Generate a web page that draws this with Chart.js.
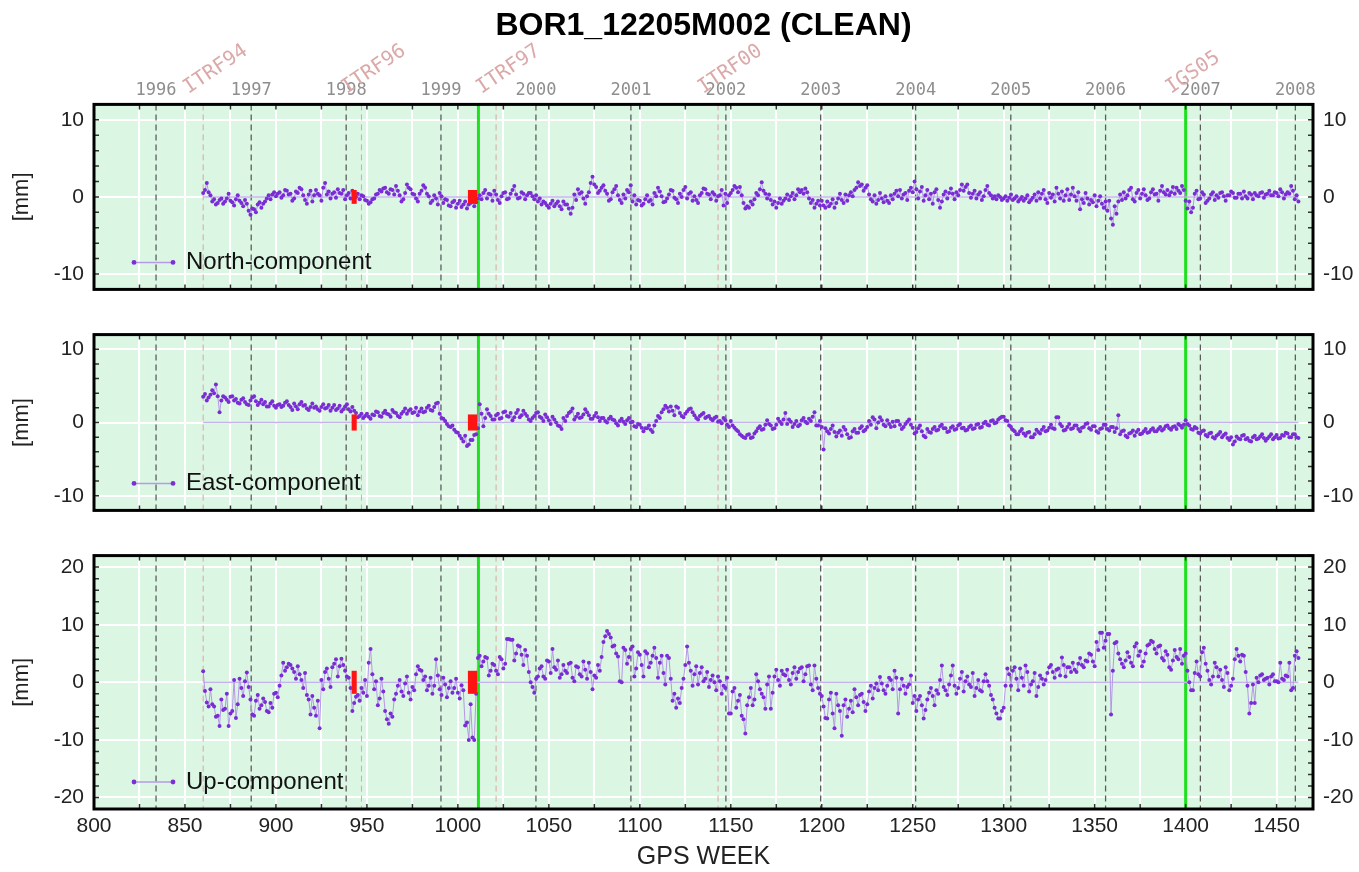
<!DOCTYPE html>
<html>
<head>
<meta charset="utf-8">
<script src="https://cdn.jsdelivr.net/npm/chart.js@4.4.1/dist/chart.umd.min.js"></script>
<style>
  body { margin: 0; background: #fff; }
  .panel { position: absolute; left: 0; width: 1359px; }
</style>
</head>
<body>
<div class="panel" style="top:0;height:312px"><canvas id="northChart"></canvas></div>
<div class="panel" style="top:312px;height:221px"><canvas id="eastChart"></canvas></div>
<div class="panel" style="top:533px;height:339px"><canvas id="upChart"></canvas></div>
<script>
// GPS weeks of the weekly solutions
const weeks = [
  860, 861, 862, 863, 864, 865, 866, 867, 868, 869, 870, 871, 872, 873, 874, 875, 876, 877, 878, 879,
  880, 881, 882, 883, 884, 885, 886, 887, 888, 889, 890, 891, 892, 893, 894, 895, 896, 897, 898, 899,
  900, 901, 902, 903, 904, 905, 906, 907, 908, 909, 910, 911, 912, 913, 914, 915, 916, 917, 918, 919,
  920, 921, 922, 923, 924, 925, 926, 927, 928, 929, 930, 931, 932, 933, 934, 935, 936, 937, 938, 939,
  940, 941, 942, 943, 944, 945, 946, 947, 948, 949, 950, 951, 952, 953, 954, 955, 956, 957, 958, 959,
  960, 961, 962, 963, 964, 965, 966, 967, 968, 969, 970, 971, 972, 973, 974, 975, 976, 977, 978, 979,
  980, 981, 982, 983, 984, 985, 986, 987, 988, 989, 990, 991, 992, 993, 994, 995, 996, 997, 998, 999,
  1000, 1001, 1002, 1003, 1004, 1005, 1006, 1007, 1008, 1009, 1010, 1011, 1012, 1013, 1014, 1015, 1016, 1017, 1018, 1019,
  1020, 1021, 1022, 1023, 1024, 1025, 1026, 1027, 1028, 1029, 1030, 1031, 1032, 1033, 1034, 1035, 1036, 1037, 1038, 1039,
  1040, 1041, 1042, 1043, 1044, 1045, 1046, 1047, 1048, 1049, 1050, 1051, 1052, 1053, 1054, 1055, 1056, 1057, 1058, 1059,
  1060, 1061, 1062, 1063, 1064, 1065, 1066, 1067, 1068, 1069, 1070, 1071, 1072, 1073, 1074, 1075, 1076, 1077, 1078, 1079,
  1080, 1081, 1082, 1083, 1084, 1085, 1086, 1087, 1088, 1089, 1090, 1091, 1092, 1093, 1094, 1095, 1096, 1097, 1098, 1099,
  1100, 1101, 1102, 1103, 1104, 1105, 1106, 1107, 1108, 1109, 1110, 1111, 1112, 1113, 1114, 1115, 1116, 1117, 1118, 1119,
  1120, 1121, 1122, 1123, 1124, 1125, 1126, 1127, 1128, 1129, 1130, 1131, 1132, 1133, 1134, 1135, 1136, 1137, 1138, 1139,
  1140, 1141, 1142, 1143, 1144, 1145, 1146, 1147, 1148, 1149, 1150, 1151, 1152, 1153, 1154, 1155, 1156, 1157, 1158, 1159,
  1160, 1161, 1162, 1163, 1164, 1165, 1166, 1167, 1168, 1169, 1170, 1171, 1172, 1173, 1174, 1175, 1176, 1177, 1178, 1179,
  1180, 1181, 1182, 1183, 1184, 1185, 1186, 1187, 1188, 1189, 1190, 1191, 1192, 1193, 1194, 1195, 1196, 1197, 1198, 1199,
  1200, 1201, 1202, 1203, 1204, 1205, 1206, 1207, 1208, 1209, 1210, 1211, 1212, 1213, 1214, 1215, 1216, 1217, 1218, 1219,
  1220, 1221, 1222, 1223, 1224, 1225, 1226, 1227, 1228, 1229, 1230, 1231, 1232, 1233, 1234, 1235, 1236, 1237, 1238, 1239,
  1240, 1241, 1242, 1243, 1244, 1245, 1246, 1247, 1248, 1249, 1250, 1251, 1252, 1253, 1254, 1255, 1256, 1257, 1258, 1259,
  1260, 1261, 1262, 1263, 1264, 1265, 1266, 1267, 1268, 1269, 1270, 1271, 1272, 1273, 1274, 1275, 1276, 1277, 1278, 1279,
  1280, 1281, 1282, 1283, 1284, 1285, 1286, 1287, 1288, 1289, 1290, 1291, 1292, 1293, 1294, 1295, 1296, 1297, 1298, 1299,
  1300, 1301, 1302, 1303, 1304, 1305, 1306, 1307, 1308, 1309, 1310, 1311, 1312, 1313, 1314, 1315, 1316, 1317, 1318, 1319,
  1320, 1321, 1322, 1323, 1324, 1325, 1326, 1327, 1328, 1329, 1330, 1331, 1332, 1333, 1334, 1335, 1336, 1337, 1338, 1339,
  1340, 1341, 1342, 1343, 1344, 1345, 1346, 1347, 1348, 1349, 1350, 1351, 1352, 1353, 1354, 1355, 1356, 1357, 1358, 1359,
  1360, 1361, 1362, 1363, 1364, 1365, 1366, 1367, 1368, 1369, 1370, 1371, 1372, 1373, 1374, 1375, 1376, 1377, 1378, 1379,
  1380, 1381, 1382, 1383, 1384, 1385, 1386, 1387, 1388, 1389, 1390, 1391, 1392, 1393, 1394, 1395, 1396, 1397, 1398, 1399,
  1400, 1401, 1402, 1403, 1404, 1405, 1406, 1407, 1408, 1409, 1410, 1411, 1412, 1413, 1414, 1415, 1416, 1417, 1418, 1419,
  1420, 1421, 1422, 1423, 1424, 1425, 1426, 1427, 1428, 1429, 1430, 1431, 1432, 1433, 1434, 1435, 1436, 1437, 1438, 1439,
  1440, 1441, 1442, 1443, 1444, 1445, 1446, 1447, 1448, 1449, 1450, 1451, 1452, 1453, 1454, 1455, 1456, 1457, 1458, 1459,
  1460, 1461, 1462
];

// residuals in mm
const north = [
  0.5, 0.9, 1.8, 0.6, 0.2, -0.6, -0.3, -1.0, -0.8, -0.4, -0.2, -0.9, -0.6, -0.2, 0.4, -0.5, -0.7, -1.1, -0.3, 0.2,
  -0.5, -0.8, -1.2, -0.4, -0.9, -1.8, -2.3, -1.5, -1.6, -2.0, -1.0, -0.7, -1.4, -0.9, -0.6, -0.2, 0.2, -0.3, 0.3, 0.6,
  0.1, 0.4, 0.6, -0.1, 0.2, 0.9, 0.8, 0.3, 0.4, -0.5, -0.2, 0.7, 0.5, 1.2, 1.0, 0.2, -0.4, -0.9, 0.3, 0.8,
  -0.6, 0.2, 0.9, 0.4, 0.2, -0.5, 1.2, 1.8, 0.3, 0.7, -0.2, 0.4, 0.6, -0.1, 1.0, 0.5, 0.4, 0.9, -0.3, 0.2,
  0.5, -0.2, 0.8, 0.3, 0.0, 0.4, -0.3, 0.2, 0.1, -0.4, -0.5, -0.9, -0.7, -0.3, -0.2, 0.3, 0.4, 0.9, 0.7, 1.1,
  1.2, 0.6, 0.4, 1.0, 0.9, 0.3, 1.4, 0.8, 0.2, -0.6, -0.3, 0.5, 1.6, 1.2, 1.0, 0.4, 0.3, -0.2, -0.6, 0.4,
  0.8, 1.5, 1.2, 0.4, 0.1, -0.8, -0.5, 0.2, -0.2, -1.0, 0.5, 0.1, -0.8, -0.3, -0.4, -1.1, -1.2, -0.7, -0.5, -1.4,
  -0.9, -0.5, -1.3, -1.0, -0.6, -1.5, -1.0, -0.8, -0.4, -1.2, -0.7, -0.2, 0.2, -0.3, 0.5, 0.9, -0.2, 0.4, 0.3, -0.5,
  0.8, 0.3, -0.4, -0.8, 0.1, 0.5, 0.6, -0.3, -0.2, 0.4, 0.9, 1.4, 0.3, -0.2, -0.1, 0.6, 0.4, -0.3, 0.2, 0.5,
  0.5, 0.1, -0.3, 0.2, -0.6, -0.2, -1.0, -0.6, -0.8, -1.1, -1.4, -0.9, -0.5, -1.2, -0.9, -0.6, -1.2, -1.6, -0.6, -1.0,
  -1.0, -1.5, -2.2, -1.4, 0.3, -0.4, 1.0, 0.4, 0.6, -0.2, -0.9, 0.1, 0.6, 1.8, 2.6, 1.6, 1.3, 0.5, 0.8, 1.2,
  1.5, 0.8, 0.4, -0.5, -0.3, 0.6, 1.0, 1.4, 0.2, -0.4, -0.8, 0.3, -0.2, 0.9, 0.6, 1.5, -0.6, 0.2, -1.0, -0.4,
  -0.5, -1.1, -0.9, -0.3, 0.2, -0.6, -0.4, -1.0, 0.5, 0.1, 1.2, 0.7, 0.1, -0.7, -0.6, -0.2, 0.3, 0.9, 0.8, -0.1,
  -0.3, -0.8, 0.4, 0.0, 0.9, 1.3, -0.2, 0.4, 0.6, -0.5, 0.1, -0.4, -0.8, 0.2, 0.5, 1.1, 1.0, 0.4, 0.3, -0.3,
  0.6, 0.3, -0.5, 0.1, 0.2, 0.9, -1.1, 0.4, -0.8, 0.2, 0.5, 0.9, 1.4, 1.2, 0.6, 1.3, 0.2, -0.8, -1.5, -1.2,
  -1.4, -0.6, -1.0, -0.3, 0.5, 0.2, 1.0, 1.9, 0.8, 0.4, -0.2, 0.3, -0.4, -1.0, -0.6, -1.4, -0.8, -0.2, -0.9, -0.5,
  -0.2, 0.3, -0.4, 0.1, 0.5, -0.3, 0.2, 1.0, 0.6, 0.9, 0.4, 1.1, 0.6, -0.2, -0.8, -0.4, -1.4, -0.9, -0.5, -1.1,
  -0.5, -1.1, -1.4, -0.6, -1.2, -0.9, -0.3, -1.4, -0.8, -0.2, 0.4, -0.4, -0.8, 0.3, -0.5, 0.2, 0.6, 0.1, 0.9, 1.2,
  1.9, 1.4, 1.6, 0.8, 1.2, 1.5, 0.3, -0.3, -0.6, 0.2, -0.9, -0.4, 0.5, -0.2, -0.7, 0.1, -0.5, -0.8, 0.2, -0.3,
  0.4, 0.8, 0.1, 0.9, -0.2, 0.3, 0.5, -0.4, 0.8, 1.2, 0.6, 2.0, 1.0, -0.2, 0.7, 1.3, -0.5, 0.2, 0.9, -0.3,
  0.4, -0.9, 0.6, 1.0, -0.4, -1.4, -0.6, 0.3, 0.7, -0.2, 0.5, 1.1, 0.4, -0.3, 0.6, 0.2, 0.9, 1.6, 0.8, 1.3,
  1.6, 0.5, -0.1, 0.4, 0.8, -0.2, 0.3, 0.6, -0.4, 0.1, 0.9, 1.4, 0.5, 0.2, -0.2, 0.1, -0.3, 0.2, 0.0, -0.4,
  -0.2, 0.1, -0.5, -0.1, 0.3, -0.4, -0.2, 0.1, -0.6, -0.3, 0.0, -0.5, -0.2, 0.2, -0.7, -0.4, -0.1, 0.3, -0.5, 0.6,
  -0.2, 0.4, 0.9, -0.3, -0.8, 0.5, -0.1, 0.3, -0.6, 1.2, 0.4, -0.2, 0.7, -0.5, 0.2, 1.0, -0.4, 0.3, 1.2, 0.1,
  -0.5, 0.6, -1.6, -0.3, -0.8, 0.5, -0.2, -1.0, -0.4, -0.7, 0.2, -1.2, -0.5, 0.1, -0.9, -1.4, -0.6, -1.8, -0.5, -2.8,
  -3.6, -1.2, -2.2, -0.6, 0.3, -0.4, 0.6, -0.2, 0.2, 0.9, 1.2, -0.3, -0.6, 0.5, 0.9, -0.2, 0.4, 1.0, 0.2, -0.4,
  -0.2, 0.6, 1.0, 0.3, 0.4, -0.5, 0.8, 1.4, 0.6, 0.3, 0.9, 0.2, 0.6, 1.3, 0.4, 1.2, 0.8, 0.5, 1.4, 0.9,
  -0.5, -1.5, -0.6, -2.0, -1.4, 0.4, 0.8, -0.3, -0.2, 0.6, 0.3, -0.8, -0.5, -0.2, 0.3, 0.6, -0.4, 0.2, -0.1, 0.5,
  0.6, 0.1, -0.5, 0.2, 0.2, 0.7, 0.5, -0.1, -0.1, 0.4, 0.4, -0.2, 0.7, 0.1, -0.2, 0.5, 0.3, -0.3, 0.5, 0.2,
  0.1, 0.5, 0.6, -0.1, 0.3, 0.4, 0.8, 0.2, 0.2, 0.6, 0.5, 0.1, 1.0, 0.6, -0.2, 0.3, 0.6, 0.4, 1.4, 0.8,
  -0.3, 0.2, -0.6
];

const east = [
  3.5, 3.9, 3.0, 3.4, 3.8, 4.4, 4.0, 5.2, 3.6, 1.4, 3.0, 3.6, 3.4, 3.1, 2.8, 3.5, 3.6, 3.0, 3.2, 2.7,
  2.6, 3.1, 3.3, 2.8, 2.5, 2.4, 3.0, 3.4, 3.6, 2.9, 2.4, 2.7, 3.1, 2.5, 2.8, 2.2, 2.2, 2.6, 2.9, 2.3,
  2.0, 2.4, 2.5, 2.1, 2.3, 2.7, 2.9, 2.4, 2.1, 1.7, 2.6, 2.2, 1.8, 2.5, 2.8, 2.3, 2.4, 1.9, 1.7, 2.1,
  2.6, 2.0, 2.2, 1.8, 1.6, 2.1, 2.5, 1.9, 2.0, 2.4, 1.6, 2.0, 2.4, 1.7, 1.9, 2.3, 1.5, 1.8, 2.2, 2.5,
  1.8, 1.5, 2.1, 1.6, 1.3, 0.7, 0.9, 1.2, 0.6, 0.9, 1.2, 0.8, 0.5, 1.1, 1.0, 1.5, 1.4, 0.9, 0.8, 1.3,
  1.6, 1.2, 1.1, 0.8, 1.7, 1.4, 1.3, 0.9, 0.7, 1.2, 1.5, 1.9, 1.2, 1.6, 1.8, 1.3, 1.4, 2.0, 1.0, 1.5,
  1.9, 1.4, 1.5, 2.0, 2.3, 1.7, 1.6, 2.1, 2.6, 2.7, 1.2, 0.6, 0.5, 0.2, -0.2, -0.5, -0.6, -0.4, -1.0, -1.3,
  -1.4, -1.8, -2.2, -2.6, -1.8, -3.2, -3.0, -2.4, -2.4, -1.7, -1.6, -0.8, 2.5, 1.2, -0.5, 0.6, 1.8, 1.2, 0.9, 0.4,
  0.4, 1.0, 1.2, 0.5, 0.6, 1.4, 1.5, 0.9, 0.8, 1.3, 0.3, 0.7, 1.3, 1.7, 0.7, 1.0, 1.6, 1.2, 0.9, 0.4,
  0.2, 0.6, 0.9, 1.3, 1.4, 0.8, 0.6, 0.2, 1.1, 0.7, 0.3, -0.2, 0.8, 0.4, 0.0, -0.4, -0.5, -0.9, 0.6, 0.2,
  0.9, 1.3, 1.5, 1.9, 0.4, 0.8, 1.2, 0.6, 0.7, 1.1, 1.8, 1.4, 1.0, 0.5, 0.5, 0.9, 1.3, 0.7, 0.2, 0.6,
  0.6, 0.2, 0.0, 0.5, 0.8, 0.4, 0.3, -0.1, -0.4, 0.2, 0.5, 0.1, -0.2, 0.3, 0.6, 0.0, 0.1, -0.5, -0.6, -0.2,
  -0.3, -0.7, -1.2, -0.8, -0.8, -0.4, -1.0, -1.3, -0.4, 0.2, 0.9, 0.6, 1.4, 1.8, 2.3, 2.0, 1.5, 2.2, 1.6, 1.0,
  2.2, 2.0, 1.3, 0.9, 0.7, 1.2, 1.5, 1.8, 1.9, 1.4, 1.0, 0.6, 0.4, 0.9, 1.1, 1.3, 0.6, 0.8, 0.9, 0.5,
  0.3, 0.6, 0.8, 0.1, 0.2, -0.1, 0.6, 0.3, -0.3, -0.6, 0.2, -0.4, -0.7, -1.0, -1.2, -1.6, -1.8, -2.0, -2.1, -1.7,
  -1.6, -2.1, -2.0, -1.5, -1.2, -0.8, -0.5, -1.0, -0.9, -0.3, 0.3, -0.2, -0.4, -0.9, -0.8, -0.3, 0.5, 0.1, -0.2, 0.4,
  1.3, -0.2, 0.4, 0.1, -0.6, -0.2, 0.2, -0.5, -0.3, 0.3, 0.6, 0.1, -0.1, 0.5, 0.2, 0.8, 1.4, -0.4, -0.4, 0.2,
  -0.6, -3.7, -0.8, -1.2, -1.5, -0.9, -0.4, -1.3, -1.9, -1.4, -1.1, -1.8, -0.6, -1.0, -1.6, -2.1, -2.0, -1.2, -0.9, -1.4,
  -1.4, -0.8, -0.5, -1.2, -1.0, -0.6, 0.2, -0.3, 0.7, 0.4, -0.8, 0.0, 0.7, 0.3, -0.3, -0.5, 0.3, -0.2, -0.6, 0.1,
  -0.5, 0.2, 0.2, -0.3, -0.9, -0.6, -0.2, 0.1, 0.4, -0.3, -0.7, -1.5, -1.3, -0.8, -0.4, -1.2, -1.8, -2.0, -0.9, -1.3,
  -1.4, -0.9, -0.6, -1.1, -1.0, -0.5, -0.3, -0.8, -0.8, -1.3, -1.2, -0.7, -0.5, -1.0, -0.9, -0.4, -0.2, -0.8, -0.7, -1.1,
  -1.0, -0.6, -0.4, -0.9, -0.8, -0.3, -0.2, -0.7, -0.6, -0.1, 0.1, -0.3, -0.4, 0.2, 0.3, -0.1, 0.0, 0.4, 0.6, 0.8,
  0.8, 0.3, 0.2, -0.4, -0.6, -1.0, -1.2, -1.6, -1.6, -1.2, -0.9, -1.5, -1.8, -1.4, -1.3, -2.0, -2.0, -1.6, -1.0, -1.3,
  -1.5, -1.0, -0.6, -1.2, -1.1, -0.7, -0.3, -0.8, -0.9, 0.7, 0.7, -0.2, -0.5, -1.1, -1.0, -0.6, -0.2, -0.9, -0.8, -0.4,
  -0.4, -0.9, -1.2, -0.7, -0.6, -0.2, -0.1, -0.8, -1.0, -0.5, -0.5, -1.2, -1.4, -0.9, -0.8, -0.3, -0.3, -0.9, -1.1, -0.6,
  -0.6, -1.3, -0.8, 1.0, -1.6, -1.2, -1.1, -1.8, -2.0, -1.5, -1.4, -1.1, -1.8, -1.3, -1.0, -1.6, -1.5, -1.2, -0.9, -1.4,
  -1.3, -1.0, -0.8, -1.2, -1.2, -0.9, -0.6, -1.1, -0.9, -0.5, -0.4, -0.8, -1.0, -0.6, -0.5, -0.9, -0.2, -0.4, -0.7, -0.3,
  0.3, -0.2, -0.4, -0.9, -1.0, -0.6, -0.8, -1.4, -1.5, -1.2, -1.1, -1.7, -1.9, -1.5, -1.4, -2.0, -2.2, -1.8, -1.6, -1.3,
  -2.0, -1.7, -1.5, -2.1, -2.4, -2.0, -3.0, -2.6, -1.9, -2.2, -2.3, -1.8, -1.7, -2.3, -2.1, -2.5, -2.6, -2.0, -1.8, -2.3,
  -2.2, -1.9, -1.6, -2.1, -2.5, -2.2, -1.9, -1.6, -2.3, -2.0, -1.7, -2.2, -2.1, -1.7, -1.8, -1.4, -1.5, -2.0, -2.0, -1.6,
  -1.6, -2.0, -2.1
];

const up = [
  1.9, -1.5, -3.5, -4.2, -1.2, -3.8, -4.2, -6.0, -5.8, -7.6, -3.0, -4.8, -4.6, -2.0, -7.6, -5.4, -5.0, 0.4, -6.2, -3.8,
  0.6, -1.0, -2.4, 0.2, 1.7, -0.8, -3.0, -5.6, -5.8, -3.2, -2.2, -4.6, -4.0, -2.8, -3.4, -5.0, -5.2, -3.6, -4.4, -2.0,
  -1.8, -2.6, -0.6, 1.2, 3.4, 2.0, 2.6, 3.2, 3.0, 2.4, 1.8, 0.6, 2.8, 1.4, 0.4, -1.0, 1.6, -2.2, -3.0, -5.6,
  -2.4, -4.4, -5.8, -3.2, -8.0, 0.4, -1.2, 1.8, 2.4, 0.6, -0.8, 2.6, 3.2, 4.0, 1.0, 2.8, 4.1, 3.0, 2.0, 1.0,
  0.8, -1.0, -5.0, -3.6, -2.5, -2.2, -3.2, -1.0, -1.8, 0.4, -2.4, 3.4, 5.8, 1.4, -1.2, 0.2, -4.0, -2.8, 0.6, -1.6,
  -5.0, -6.4, -7.2, -5.4, -6.0, -3.0, -2.0, -0.6, 0.4, -1.6, -2.4, -0.2, 1.0, -1.8, -3.0, -0.8, -1.4, 1.4, 2.8, 2.2,
  2.0, 0.4, 1.0, -1.4, -0.6, 0.8, -2.0, -0.6, 4.0, 1.2, -1.2, -2.2, 0.8, -0.4, -2.6, -1.0, 0.2, -1.8, -1.0, 0.6,
  -1.8, -2.8, -0.5, -1.4, -7.5, -7.0, -10.0, -3.8, -9.6, -10.0, -2.0, 4.2, 4.6, 2.8, 3.6, 4.4, 4.2, 1.2, 2.0, 3.2,
  3.0, 2.0, 1.4, 4.4, 4.0, 2.4, 3.2, 7.5, 7.5, 7.4, 7.4, 3.8, 5.0, 6.4, 6.2, 4.8, 3.0, 5.6, 4.6, 1.8,
  0.0, -0.8, -1.8, 0.6, 1.0, 2.4, 2.8, 1.0, 0.6, 3.8, 3.6, 1.6, 5.8, 2.6, 2.2, 3.8, 0.8, 1.4, 3.0, 2.0,
  1.6, 3.2, 3.4, 0.8, 0.2, 2.8, 2.6, 1.4, 1.0, 3.6, 2.2, 0.6, 3.4, 1.8, -1.2, 1.2, 0.8, 3.0, 2.0, 4.4,
  7.0, 8.0, 8.9, 8.4, 7.8, 6.2, 6.4, 5.0, 4.5, 0.2, 0.0, 6.0, 5.6, 3.2, 4.4, 5.8, 6.2, 1.0, 2.4, 5.2,
  4.8, 3.0, 1.0, 5.4, 5.0, 2.6, 3.4, 4.6, 6.0, 4.2, 0.8, 3.4, 4.6, 1.6, -0.4, 4.6, 4.2, 0.6, -3.2, -2.0,
  -4.4, -2.8, -3.6, -1.0, 0.6, 3.0, 6.2, 3.4, 2.0, -0.6, 1.4, 2.8, -0.4, 1.6, 2.6, 0.2, 0.6, 1.8, -0.8, 0.4,
  1.2, 0.0, -1.4, 1.0, 0.2, -2.0, -0.6, -1.0, 0.8, -5.4, -5.4, -1.6, -1.0, -4.4, -3.2, -2.2, -5.8, -6.4, -8.9, -4.0,
  -2.6, -1.0, -4.0, -3.0, 1.4, 0.2, -1.2, -2.0, -2.6, -4.6, -0.4, 1.0, -4.6, -1.8, 1.0, 2.2, 0.4, -0.6, 2.0, 1.4,
  1.2, 2.2, 0.4, -0.4, 1.6, 2.6, 0.6, 1.8, 2.4, 2.6, 0.2, 1.4, 2.8, 2.9, -0.4, -1.4, 2.9, 0.6, -1.0, -2.0,
  -2.4, -4.2, -6.2, -6.3, -3.0, -1.8, -5.4, -8.0, -2.0, -4.0, -5.0, -9.3, -4.0, -3.0, -6.0, -4.6, -3.2, -5.2, -1.2, -2.6,
  -4.0, -2.2, -2.0, -3.4, -5.0, -3.8, -1.6, -0.6, -2.8, -1.0, -0.2, -1.4, 0.9, -0.2, -1.4, -2.0, -0.6, 0.8, 0.4, -1.2,
  2.0, 0.8, -5.4, -1.2, 0.6, -0.6, -2.0, -0.8, -0.4, 1.2, -3.6, -2.4, -5.0, -3.0, -2.4, -4.0, -6.3, -4.8, -3.0, -1.8,
  -1.0, -2.4, -4.0, -1.4, -2.0, 0.4, 2.9, -0.8, -1.4, -2.2, -0.4, 1.2, 2.9, -0.6, -2.0, -1.0, 0.6, 1.8, -1.6, 0.2,
  1.0, -0.4, -0.8, 1.6, -2.4, -1.0, 0.4, -1.4, -1.6, 0.2, 1.4, 0.2, -0.6, -2.2, -3.0, -4.4, -5.4, -6.3, -6.3, -5.0,
  -4.4, -0.6, 2.4, 1.4, -0.6, 2.0, 2.6, 0.6, -1.4, 2.4, 0.8, -0.6, 2.9, 1.8, -1.6, -0.4, 0.2, 1.6, -2.4, -0.8,
  1.2, 0.6, -0.4, 0.4, 1.6, 2.6, 3.0, 1.8, 0.8, 2.2, 2.4, 1.2, 4.3, 3.0, 1.0, 2.6, 2.6, 1.8, 3.4, 2.2,
  1.8, 3.2, 4.2, 3.0, 2.6, 3.8, 3.6, 5.0, 4.8, 3.6, 2.8, 7.0, 5.6, 8.6, 8.6, 6.0, 7.2, 8.4, 8.4, -5.6,
  2.0, 6.8, 7.0, 5.0, 4.0, 3.2, 2.6, 3.8, 5.2, 4.4, 3.4, 2.8, 6.2, 6.8, 4.6, 5.4, 2.8, 3.6, 5.0, 6.4,
  6.6, 7.2, 7.0, 5.8, 5.0, 6.2, 6.4, 4.2, 3.8, 5.4, 4.8, 2.6, 2.2, 3.8, 5.6, 4.4, 4.0, 5.8, 3.2, 4.6,
  5.0, 2.0, 0.0, -1.4, -1.4, 1.6, 3.6, 1.4, 1.0, 5.2, 6.0, 3.2, 2.0, 0.4, -0.4, 1.0, 3.4, 2.6, 1.0, 2.2,
  0.4, -0.8, 2.6, 1.6, -1.4, -0.6, 0.6, 4.0, 5.8, 4.6, 3.6, 4.8, 4.6, 1.8, -0.6, -5.4, -3.6, -0.4, -3.6, 0.8,
  0.0, 1.2, 1.4, 0.4, 0.6, 0.8, -0.4, 1.0, 1.4, 0.2, 0.2, 0.0, 3.4, 0.6, 0.4, 1.2, 1.0, 3.4, -1.4, -1.0,
  4.6, 5.4, 4.2
];

// first day of each year, in GPS weeks
const yearWeeks = [834.1, 886.4, 938.6, 990.7, 1042.9, 1095.1, 1147.3, 1199.4, 1251.6, 1303.9, 1356.0, 1408.1, 1460.3];
const yearLabels = ['1996', '1997', '1998', '1999', '2000', '2001', '2002', '2003', '2004', '2005', '2006', '2007', '2008'];

// reference frame changes
const frameWeeks = [860, 947, 1021, 1143, 1400];
const frameLabels = ['ITRF94', 'ITRF96', 'ITRF97', 'ITRF00', 'IGS05'];

// equipment changes (green) and offset markers (red)
const greenWeeks = [1011.3, 1400];
const offsetBoxes = [[941.6, 944.4], [1005.5, 1010.6]];

const FONT = 'Liberation Sans, Arial, Helvetica, sans-serif';
const MONO = 'DejaVu Sans Mono, monospace';

function vline(ctx, px, y0, y1) {
  ctx.beginPath();
  ctx.moveTo(px, y0);
  ctx.lineTo(px, y1);
  ctx.stroke();
}

const decor = {
  id: 'decor',
  beforeDraw(chart) {
    const { ctx, chartArea: a } = chart;
    ctx.save();
    ctx.fillStyle = '#dbf7e4';
    ctx.fillRect(a.left, a.top, a.width, a.height);
    ctx.restore();
  },
  beforeDatasetsDraw(chart) {
    const { ctx, chartArea: a, scales: { x } } = chart;
    ctx.save();
    ctx.beginPath();
    ctx.rect(a.left, a.top, a.width, a.height);
    ctx.clip();
    ctx.setLineDash([6, 4]);
    ctx.strokeStyle = '#5c5c5c';
    ctx.lineWidth = 1.3;
    yearWeeks.forEach(w => vline(ctx, x.getPixelForValue(w), a.top, a.bottom));
    ctx.strokeStyle = '#d9a5a5';
    ctx.lineWidth = 1;
    frameWeeks.forEach(w => vline(ctx, x.getPixelForValue(w), a.top, a.bottom));
    ctx.setLineDash([]);
    ctx.strokeStyle = '#1fe01f';
    ctx.lineWidth = 3;
    greenWeeks.forEach(w => vline(ctx, x.getPixelForValue(w), a.top, a.bottom));
    ctx.restore();
  },
  afterDatasetsDraw(chart, args, opts) {
    const { ctx, chartArea: a, scales: { x, y } } = chart;
    ctx.save();
    // offset markers
    ctx.fillStyle = '#ff1414';
    offsetBoxes.forEach(([w0, w1]) => {
      const x0 = x.getPixelForValue(w0), x1 = x.getPixelForValue(w1);
      const y0 = y.getPixelForValue(opts.box), y1 = y.getPixelForValue(-opts.box);
      ctx.fillRect(x0, y0, x1 - x0, y1 - y0);
    });
    // inward ticks
    ctx.strokeStyle = '#333';
    ctx.lineWidth = 1.5;
    y.ticks.forEach(t => {
      const py = y.getPixelForValue(t.value);
      ctx.beginPath();
      ctx.moveTo(a.left, py); ctx.lineTo(a.left + 5, py);
      ctx.moveTo(a.right - 5, py); ctx.lineTo(a.right, py);
      ctx.stroke();
    });
    x.ticks.forEach(t => {
      const px = x.getPixelForValue(t.value);
      ctx.beginPath();
      ctx.moveTo(px, a.top); ctx.lineTo(px, a.top + 5);
      ctx.moveTo(px, a.bottom - 5); ctx.lineTo(px, a.bottom);
      ctx.stroke();
    });
    // frame
    ctx.strokeStyle = '#000';
    ctx.lineWidth = 3;
    ctx.strokeRect(a.left, a.top, a.width, a.height);
    // legend
    const ly = a.bottom - 27;
    ctx.strokeStyle = '#b69ae6';
    ctx.lineWidth = 1.5;
    ctx.beginPath();
    ctx.moveTo(a.left + 40, ly); ctx.lineTo(a.left + 79, ly);
    ctx.stroke();
    ctx.fillStyle = '#7b2fd6';
    [a.left + 40, a.left + 79].forEach(px => {
      ctx.beginPath(); ctx.arc(px, ly, 2.4, 0, Math.PI * 2); ctx.fill();
    });
    ctx.fillStyle = '#111';
    ctx.font = '24px ' + FONT;
    ctx.textBaseline = 'middle';
    ctx.fillText(opts.label, a.left + 92, ly);
    // reference frame labels above the top panel
    if (opts.frames) {
      ctx.fillStyle = '#dba9a9';
      ctx.font = '20px ' + MONO;
      ctx.textBaseline = 'bottom';
      frameWeeks.forEach((w, i) => {
        ctx.save();
        ctx.translate(x.getPixelForValue(w) - 12, 98);
        ctx.rotate(-34 * Math.PI / 180);
        ctx.fillText(frameLabels[i], 0, 0);
        ctx.restore();
      });
    }
    ctx.restore();
  }
};

function makeChart(id, values, label, range, opts) {
  const yScale = (pos) => ({
    position: pos,
    min: -range, max: range,
    afterFit: s => { s.width = pos === 'left' ? 94 : 46; },
    grid: pos === 'left'
      ? { color: c => (c.tick && c.tick.value % 10 === 0) ? '#ffffff' : 'rgba(0,0,0,0)', lineWidth: 2, drawTicks: false }
      : { display: false, drawTicks: false },
    border: { display: false },
    ticks: {
      stepSize: 2, includeBounds: false, autoSkip: false, padding: 10,
      color: '#222', font: { family: FONT, size: 21 },
      callback: v => (v % 10 === 0 ? String(v) : '')
    },
    title: pos === 'left'
      ? { display: true, text: '[mm]', color: '#222', font: { family: FONT, size: 22 }, padding: { top: 9, bottom: 0 } }
      : { display: false }
  });

  const scales = {
    x: {
      type: 'linear', min: 800, max: 1470,
      afterFit: s => { s.height = opts.bottomAxis ? 63 : 0; },
      grid: { color: '#ffffff', lineWidth: 2, drawTicks: false },
      border: { display: false },
      ticks: {
        display: !!opts.bottomAxis, stepSize: 25, includeBounds: false, autoSkip: false,
        maxRotation: 0, padding: 5, color: '#222', font: { family: FONT, size: 21 },
        callback: v => (v % 50 === 0 ? String(v) : '')
      },
      title: { display: !!opts.bottomAxis, text: 'GPS WEEK', color: '#222', font: { family: FONT, size: 25 }, padding: 0 }
    },
    y: yScale('left'),
    y2: yScale('right')
  };

  if (opts.topAxis) {
    scales.xTop = {
      type: 'linear', position: 'top', min: 800, max: 1470,
      afterBuildTicks: s => { s.ticks = yearWeeks.map(v => ({ value: v })); },
      afterFit: s => { s.height = 59; },
      grid: { display: false, drawTicks: false },
      border: { display: false },
      ticks: {
        autoSkip: false, maxRotation: 0, padding: 4, color: '#8e8e8e',
        font: { family: MONO, size: 17 },
        callback: (v, i) => yearLabels[i]
      }
    };
  }

  return new Chart(document.getElementById(id), {
    type: 'line',
    data: {
      datasets: [
        {
          label: label,
          data: weeks.map((w, i) => ({ x: w, y: values[i] })),
          borderColor: '#b596e6',
          borderWidth: 1,
          pointRadius: 2,
          pointBackgroundColor: '#7a2dd4',
          pointBorderWidth: 0,
          order: 1
        },
        {
          label: 'model',
          data: [{ x: weeks[0], y: 0 }, { x: weeks[weeks.length - 1], y: 0 }],
          borderColor: '#c6b2ef',
          borderWidth: 1.5,
          pointRadius: 0,
          order: 2
        }
      ]
    },
    options: {
      responsive: true,
      maintainAspectRatio: false,
      animation: false,
      layout: { padding: opts.padding },
      scales: scales,
      plugins: {
        legend: { display: false },
        tooltip: { enabled: false },
        title: opts.title
          ? { display: true, fullSize: false, text: opts.title, color: '#000', font: { family: FONT, size: 32, weight: 'bold' }, padding: { top: 7, bottom: 0 } }
          : { display: false },
        decor: { label: label, box: opts.box, frames: !!opts.topAxis }
      }
    },
    plugins: [decor]
  });
}

makeChart('northChart', north, 'North-component', 12,
  { title: 'BOR1_12205M002 (CLEAN)', topAxis: true, box: 0.9, padding: { top: 0, bottom: 6, left: 0, right: 0 } });
makeChart('eastChart', east, 'East-component', 12,
  { box: 1.1, padding: { top: 13, bottom: 6, left: 0, right: 0 } });
makeChart('upChart', up, 'Up-component', 22,
  { bottomAxis: true, box: 2, padding: { top: 14, bottom: 0, left: 0, right: 0 } });
</script>
</body>
</html>
